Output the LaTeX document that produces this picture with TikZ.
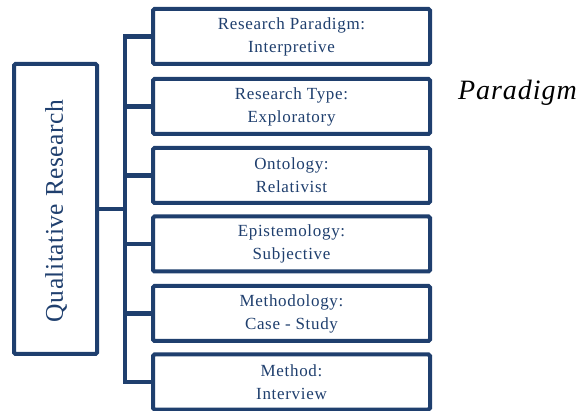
\documentclass[tikz,border=0pt]{standalone}
\usepackage{fontspec}
\setmainfont{Liberation Serif}
\definecolor{navy}{HTML}{1F3F6E}
\begin{document}
\begin{tikzpicture}[x=1pt,y=-1pt,
  itembox/.style={draw=navy,line width=4pt,rounded corners=1.5pt,fill=white,
    minimum width=277pt,minimum height=55pt,inner sep=0pt,align=center,
    text=navy,font=\fontsize{17}{23}\selectfont\addfontfeatures{LetterSpace=4}},
  rootbox/.style={draw=navy,line width=4pt,rounded corners=1.5pt,
    minimum width=83pt,minimum height=290pt,inner sep=0pt},
  conn/.style={draw=navy,line width=4.5pt,line join=miter}]
\useasboundingbox (0,0) rectangle (578,411);

% root box with its rotated caption
\node[rootbox] (q) at (55.5,209) {};
\node[rotate=90,text=navy,font=\fontsize{25.5}{28}\selectfont\addfontfeatures{LetterSpace=2}] (qt) at (56,211) {Qualitative Research};

% the six item boxes
\node[itembox] (b1) at (291.5,36.5)  {Research Paradigm:\\Interpretive};
\node[itembox] (b2) at (291.5,106.5) {Research Type:\\Exploratory};
\node[itembox] (b3) at (291.5,175.5) {Ontology:\\Relativist};
\node[itembox] (b4) at (291.5,244)   {Epistemology:\\Subjective};
\node[itembox] (b5) at (291.5,313.5) {Methodology:\\Case - Study};
\node[itembox] (b6) at (291.5,382)   {Method:\\Interview};

% bracket spine and branches
\coordinate (sp) at (125,209);
\draw[conn] (b1.west) -| (sp) |- (b6.west);
\draw[conn] (b2.west) -- (b2.west -| sp);
\draw[conn] (b3.west) -- (b3.west -| sp);
\draw[conn] (b4.west) -- (b4.west -| sp);
\draw[conn] (b5.west) -- (b5.west -| sp);
\draw[conn] (q.east) -- (sp);

% side label
\node[font=\fontsize{28}{30}\selectfont\itshape\addfontfeatures{LetterSpace=3.5}] (lab) at (517.5,93) {Paradigm};
\end{tikzpicture}
\end{document}
